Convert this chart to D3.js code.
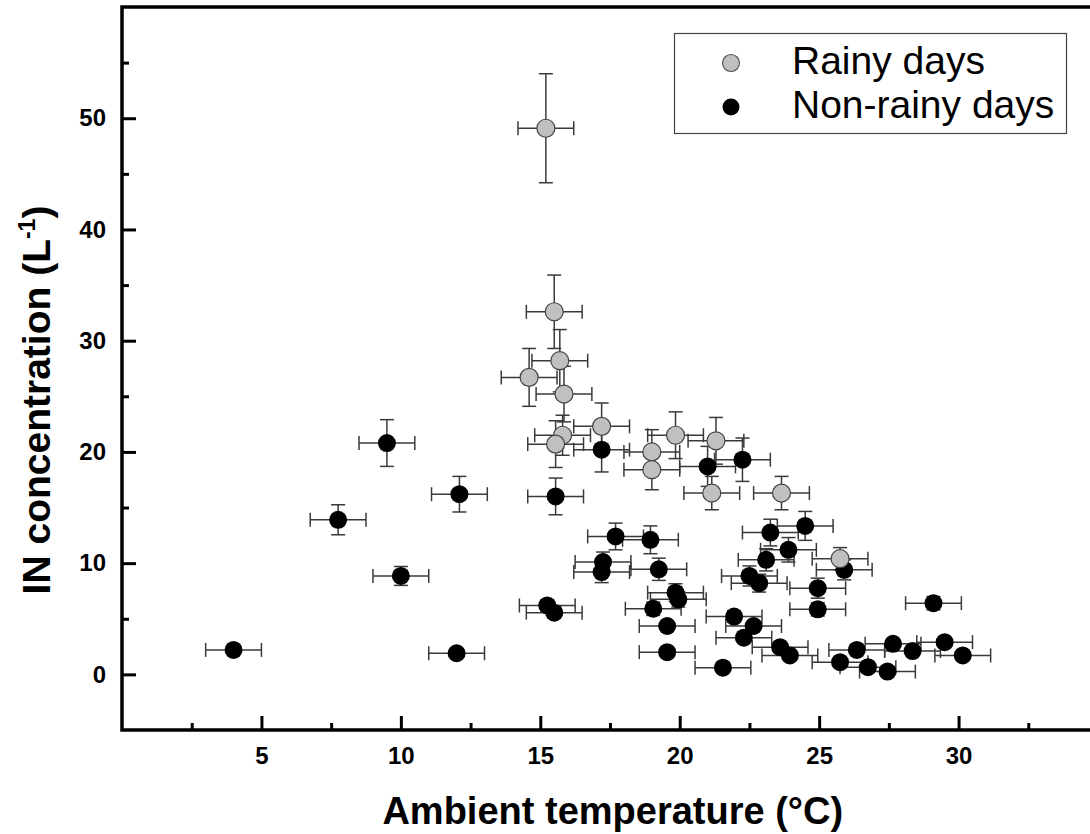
<!DOCTYPE html>
<html>
<head>
<meta charset="utf-8">
<script src="https://cdn.jsdelivr.net/npm/d3@7"></script>
<style>
  body { margin: 0; background: #ffffff; }
  svg { display: block; }
</style>
</head>
<body>
<div id="vis"></div>
<script>
// rainy days (grey)
var rainyTemp    = [15.2, 15.5, 15.7, 14.6, 15.85, 17.2, 15.8, 15.55, 19.0, 19.0, 19.85, 21.3, 21.15, 23.65, 25.75];
var rainyConc    = [49.1, 32.6, 28.2, 26.7, 25.2, 22.3, 21.5, 20.7, 20.0, 18.4, 21.5, 21.0, 16.3, 16.3, 10.4];
var rainyTempErr = [1.0, 1.0, 1.0, 1.0, 1.0, 1.0, 1.0, 1.0, 1.0, 1.0, 1.0, 1.0, 1.0, 1.0, 1.0];
var rainyConcErr = [4.9, 3.3, 2.8, 2.6, 2.5, 2.1, 1.8, 2.1, 2.0, 1.8, 2.1, 2.1, 1.5, 1.5, 1.0];

// non-rainy days (black)
var dryTemp = [4.0, 7.75, 9.5, 10.0, 12.1, 12.0, 15.55, 15.25, 15.5, 17.2, 21.0, 22.25,
               17.7, 18.95, 17.25, 17.2, 19.25, 19.85, 19.95, 19.05, 19.55, 19.55, 21.55, 21.95,
               22.65, 22.3, 23.6, 23.95, 24.95, 25.75, 26.35, 26.75, 27.65, 27.45, 28.35, 29.1,
               29.5, 30.15, 24.5, 23.25, 23.9, 23.1, 22.5, 22.85, 25.9, 24.95];
var dryConc = [2.2, 13.9, 20.8, 8.85, 16.2, 1.9, 16.0, 6.2, 5.55, 20.2, 18.7, 19.3,
               12.4, 12.1, 10.1, 9.2, 9.45, 7.35, 6.75, 5.9, 4.35, 2.0, 0.6, 5.2,
               4.35, 3.3, 2.45, 1.7, 5.85, 1.1, 2.2, 0.65, 2.75, 0.25, 2.1, 6.4,
               2.9, 1.7, 13.35, 12.75, 11.2, 10.3, 8.85, 8.2, 9.4, 7.75];
var dryTempErr = dryTemp.map(function () { return 1.0; });
var dryConcErr = [0.3, 1.35, 2.1, 0.85, 1.6, 0.3, 1.65, 0.5, 0.5, 2.0, 1.8, 1.95,
                  1.2, 1.25, 0.9, 0.95, 1.0, 0.8, 0.7, 0.6, 0.4, 0.2, 0.1, 0.5,
                  0.4, 0.3, 0.25, 0.2, 0.6, 0.1, 0.2, 0.1, 0.3, 0.05, 0.2, 0.6,
                  0.3, 0.2, 1.3, 1.2, 1.1, 1.0, 0.9, 0.8, 0.9, 0.9];

// axis ticks
var xMajor = [5, 10, 15, 20, 25, 30];
var xMinor = [2.5, 7.5, 12.5, 17.5, 22.5, 27.5, 32.5];
var yMajor = [0, 10, 20, 30, 40, 50];
var yMinor = [5, 15, 25, 35, 45, 55];

var legendLabels = ["Rainy days", "Non-rainy days"];

var margin = { top: 7, left: 122 },
    width = 976,
    height = 723;

var svg = d3.select("#vis")
  .append("svg")
    .attr("width", 1090)
    .attr("height", 834)
    .style("font-family", "Arial, 'Liberation Sans', sans-serif");

var visual = svg.append("g")
    .attr("transform", "translate(" + margin.left + "," + margin.top + ")");

var x = d3.scaleLinear().domain([0, 35]).range([0, width]);
var y = d3.scaleLinear().domain([-5, 60]).range([height, 0]);

// join the series into point records
var rainy = rainyTemp.map(function (t, i) {
  return { t: t, c: rainyConc[i], te: rainyTempErr[i], ce: rainyConcErr[i] };
});
var dry = dryTemp.map(function (t, i) {
  return { t: t, c: dryConc[i], te: dryTempErr[i], ce: dryConcErr[i] };
});

// error bars first, markers on top
var cap = 7;
function drawErrors(g, data) {
  var e = g.selectAll("g").data(data).enter().append("g")
      .attr("stroke", "#3a3a3a")
      .attr("stroke-width", 1.5)
      .attr("fill", "none");
  // horizontal
  e.append("line")
      .attr("x1", function (d) { return x(d.t - d.te); })
      .attr("x2", function (d) { return x(d.t + d.te); })
      .attr("y1", function (d) { return y(d.c); })
      .attr("y2", function (d) { return y(d.c); });
  e.append("line")
      .attr("x1", function (d) { return x(d.t - d.te); })
      .attr("x2", function (d) { return x(d.t - d.te); })
      .attr("y1", function (d) { return y(d.c) - cap; })
      .attr("y2", function (d) { return y(d.c) + cap; });
  e.append("line")
      .attr("x1", function (d) { return x(d.t + d.te); })
      .attr("x2", function (d) { return x(d.t + d.te); })
      .attr("y1", function (d) { return y(d.c) - cap; })
      .attr("y2", function (d) { return y(d.c) + cap; });
  // vertical
  e.append("line")
      .attr("x1", function (d) { return x(d.t); })
      .attr("x2", function (d) { return x(d.t); })
      .attr("y1", function (d) { return y(d.c - d.ce); })
      .attr("y2", function (d) { return y(d.c + d.ce); });
  e.append("line")
      .attr("x1", function (d) { return x(d.t) - cap; })
      .attr("x2", function (d) { return x(d.t) + cap; })
      .attr("y1", function (d) { return y(d.c + d.ce); })
      .attr("y2", function (d) { return y(d.c + d.ce); });
  e.append("line")
      .attr("x1", function (d) { return x(d.t) - cap; })
      .attr("x2", function (d) { return x(d.t) + cap; })
      .attr("y1", function (d) { return y(d.c - d.ce); })
      .attr("y2", function (d) { return y(d.c - d.ce); });
}

drawErrors(visual.append("g"), dry);
drawErrors(visual.append("g"), rainy);

visual.append("g")
  .selectAll("circle")
  .data(dry)
  .enter()
  .append("circle")
    .attr("cx", function (d) { return x(d.t); })
    .attr("cy", function (d) { return y(d.c); })
    .attr("r", 9)
    .attr("fill", "#000000");

visual.append("g")
  .selectAll("circle")
  .data(rainy)
  .enter()
  .append("circle")
    .attr("cx", function (d) { return x(d.t); })
    .attr("cy", function (d) { return y(d.c); })
    .attr("r", 9)
    .attr("fill", "#c0c0c0")
    .attr("stroke", "#444444")
    .attr("stroke-width", 1.2);

// axes (ticks point inward)
visual.append("g")
    .attr("transform", "translate(0," + height + ")")
    .call(d3.axisBottom(x).tickValues(xMinor).tickSize(-7).tickFormat(""))
    .call(function (g) { g.select(".domain").remove(); });

visual.append("g")
    .attr("transform", "translate(0," + height + ")")
    .call(d3.axisBottom(x).tickValues(xMajor).tickSize(-14).tickPadding(17).tickFormat(d3.format("d")))
    .call(function (g) { g.select(".domain").remove(); });

visual.append("g")
    .call(d3.axisLeft(y).tickValues(yMinor).tickSize(-7).tickFormat(""))
    .call(function (g) { g.select(".domain").remove(); });

visual.append("g")
    .call(d3.axisLeft(y).tickValues(yMajor).tickSize(-14).tickPadding(16).tickFormat(d3.format("d")))
    .call(function (g) { g.select(".domain").remove(); });

visual.selectAll(".tick line")
    .attr("stroke", "#000")
    .attr("stroke-width", 3);

visual.selectAll(".tick text")
    .attr("fill", "#000")
    .style("font-size", "24px")
    .style("font-weight", "bold")
    .style("font-family", "Arial, 'Liberation Sans', sans-serif");

// frame
visual.append("rect")
    .attr("x", 0)
    .attr("y", 0)
    .attr("width", width)
    .attr("height", height)
    .attr("fill", "none")
    .attr("stroke", "#000")
    .attr("stroke-width", 3.5);

// axis titles
svg.append("text")
    .attr("x", margin.left + x(17.6))
    .attr("y", 824)
    .attr("text-anchor", "middle")
    .style("font-size", "38px")
    .style("font-weight", "bold")
    .text("Ambient temperature (\u00B0C)");

var yTitle = svg.append("text")
    .attr("transform", "translate(50,400) rotate(-90)")
    .attr("text-anchor", "middle")
    .style("font-size", "39px")
    .style("font-weight", "bold");
yTitle.append("tspan").text("IN concentration (L");
yTitle.append("tspan").attr("dy", -15).style("font-size", "23px").text("-1");
yTitle.append("tspan").attr("dy", 15).text(")");

// legend
var legend = svg.append("g");

legend.append("rect")
    .attr("x", 674.5)
    .attr("y", 33.5)
    .attr("width", 392)
    .attr("height", 100)
    .attr("fill", "#fff")
    .attr("stroke", "#444")
    .attr("stroke-width", 1.2);

var legendItem = legend.selectAll("g.item")
    .data(legendLabels)
    .enter()
    .append("g")
    .attr("class", "item")
    .attr("transform", function (d, i) { return "translate(0," + (i * 44) + ")"; });

legendItem.append("circle")
    .attr("cx", 731)
    .attr("cy", 63)
    .attr("r", 8.5)
    .attr("fill", function (d, i) { return i === 0 ? "#c0c0c0" : "#000"; })
    .attr("stroke", function (d, i) { return i === 0 ? "#555" : "none"; })
    .attr("stroke-width", 1.2);

legendItem.append("text")
    .attr("x", 792)
    .attr("y", 74)
    .style("font-size", "39px")
    .text(function (d) { return d; });
</script>
</body>
</html>
